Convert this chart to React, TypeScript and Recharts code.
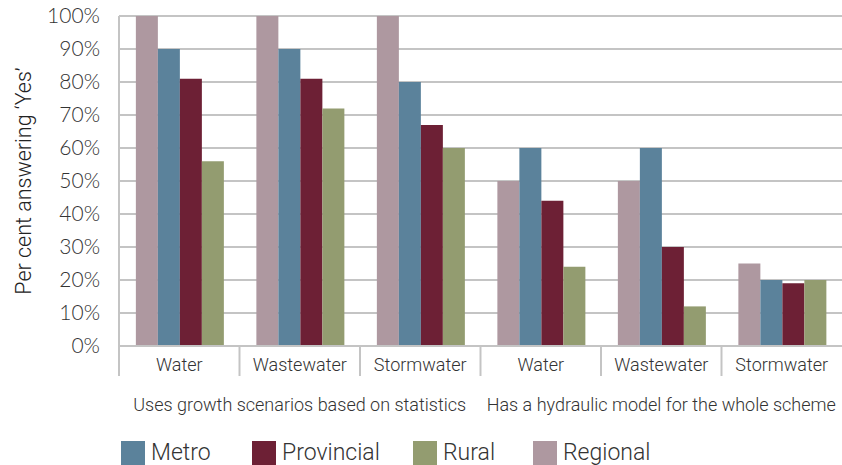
import { BarChart, Bar, XAxis, YAxis, CartesianGrid, Legend, Label } from "recharts";

const categories = ["Water", "Wastewater", "Stormwater", "Water", "Wastewater", "Stormwater"];
const groupLabels = ["Uses growth scenarios based on statistics", "Has a hydraulic model for the whole scheme"];
const regional = [100, 100, 100, 50, 50, 25];
const metro = [90, 90, 80, 60, 60, 20];
const provincial = [81, 81, 67, 44, 30, 19];
const rural = [56, 72, 60, 24, 12, 20];
const yTicks = [0, 10, 20, 30, 40, 50, 60, 70, 80, 90, 100];

const COLORS = {
  metro: "#5b829b",
  provincial: "#6d2035",
  rural: "#939c70",
  regional: "#ae98a0",
};

const legendItems = [
  { name: "Metro", color: COLORS.metro },
  { name: "Provincial", color: COLORS.provincial },
  { name: "Rural", color: COLORS.rural },
  { name: "Regional", color: COLORS.regional },
];

const data = categories.map((c, i) => ({
  cat: c,
  regional: regional[i],
  metro: metro[i],
  provincial: provincial[i],
  rural: rural[i],
}));

const FONT = "Roboto, 'Noto Sans', sans-serif";
const CHART_W = 842;
const CHART_H = 465;
const PLOT_LEFT = 119;
const BAND = (CHART_W - PLOT_LEFT) / categories.length;

function CategoryTick(props: any) {
  const { x, y, payload, index } = props;
  const left = x - BAND / 2;
  return (
    <g>
      <line x1={left} y1={y - 8} x2={left} y2={y + 22} stroke="#c4c4c4" strokeWidth={2} />
      <text x={x} y={y + 17} textAnchor="middle" fontSize={18} fill="#333" fontFamily={FONT} fontWeight={300}>
        {payload.value}
      </text>
      {index % 3 === 1 && (
        <text x={x} y={y + 57} textAnchor="middle" fontSize={18} fill="#333" fontFamily={FONT} fontWeight={300}>
          {groupLabels[Math.floor(index / 3)]}
        </text>
      )}
    </g>
  );
}

function LegendContent() {
  const lefts = [0, 131, 292, 412];
  return (
    <div style={{ position: "relative", fontFamily: FONT, fontWeight: 300 }}>
      {legendItems.map((it, i) => (
        <div key={it.name} style={{ display: "flex", alignItems: "center", position: "absolute", left: lefts[i], top: 0 }}>
          <span style={{ width: 24, height: 24, background: it.color, display: "inline-block", marginRight: 6 }} />
          <span style={{ fontSize: 23, color: "#333", lineHeight: "28px" }}>{it.name}</span>
        </div>
      ))}
    </div>
  );
}

export default function App() {
  return (
    <div style={{ position: "absolute", left: 0, top: 0, width: CHART_W, height: CHART_H, background: "#fff" }}>
      <BarChart
        width={CHART_W}
        height={CHART_H}
        data={data}
        margin={{ top: 16, right: 0, left: 0, bottom: 13 }}
        barCategoryGap="14%"
        barGap={0}
      >
        <CartesianGrid vertical={false} stroke="#c4c4c4" strokeWidth={2} />
        <XAxis
          dataKey="cat"
          height={70}
          interval={0}
          tickLine={false}
          axisLine={{ stroke: "#c4c4c4", strokeWidth: 2 }}
          tick={<CategoryTick />}
        />
        <YAxis
          width={PLOT_LEFT}
          domain={[0, 100]}
          ticks={yTicks}
          interval={0}
          tickFormatter={(v: number) => `${v}%`}
          tick={{ fontSize: 21, fill: "#333", fontFamily: "Lato, sans-serif", fontWeight: 300 }}
          tickLine={false}
          tickMargin={13}
          axisLine={{ stroke: "#c4c4c4", strokeWidth: 2 }}
        >
          <Label
            value="Per cent answering ‘Yes’"
            angle={-90}
            position="insideLeft"
            offset={23}
            style={{ fontSize: 21.5, fill: "#222", fontFamily: FONT, fontWeight: 300, textAnchor: "middle" }}
          />
        </YAxis>
        <Legend
          verticalAlign="bottom"
          height={36}
          content={<LegendContent />}
          wrapperStyle={{ top: 439, left: 121, width: 600 }}
        />
        <Bar dataKey="regional" name="Regional" fill={COLORS.regional} isAnimationActive={false} />
        <Bar dataKey="metro" name="Metro" fill={COLORS.metro} isAnimationActive={false} />
        <Bar dataKey="provincial" name="Provincial" fill={COLORS.provincial} isAnimationActive={false} />
        <Bar dataKey="rural" name="Rural" fill={COLORS.rural} isAnimationActive={false} />
      </BarChart>
    </div>
  );
}
